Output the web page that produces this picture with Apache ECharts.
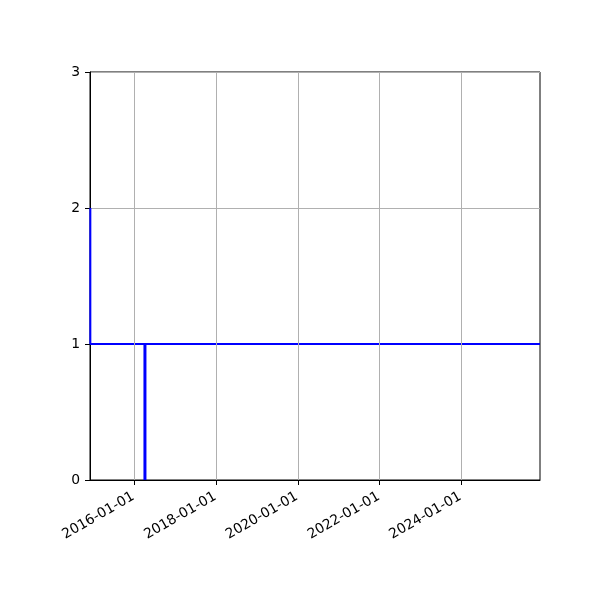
<!DOCTYPE html>
<html>
<head>
<meta charset="utf-8">
<script src="https://cdn.jsdelivr.net/npm/echarts@6/dist/echarts.min.js"></script>
<style>html,body{margin:0;padding:0;background:#fff}#c{width:600px;height:600px}</style>
</head>
<body>
<div id="c"></div>
<script>
var xMin = '2014-12-01';
var xMax = '2025-12-04';
var tickDates = ['2016-01-01','2018-01-01','2020-01-01','2022-01-01','2024-01-01'];
var yTicks = [0, 1, 2, 3];
var stepDates = ['2014-12-04','2014-12-04','2025-12-04'];
var stepValues = [2, 1, 1];
var spikeDates = ['2016-04-05','2016-04-05'];
var spikeValues = [0, 1];

function ts(d){ return new Date(d + 'T00:00:00Z').getTime(); }
var tickTs = tickDates.map(ts);
function pad(n){ return (n<10?'0':'')+n; }
function fmt(v){ var d=new Date(v); return d.getUTCFullYear()+'-'+pad(d.getUTCMonth()+1)+'-'+pad(d.getUTCDate()); }

var chart = echarts.init(document.getElementById('c'), null, {renderer:'canvas'});
chart.setOption({
  animation:false,
  backgroundColor:'#fff',
  grid:{left:90,right:60,top:72,bottom:120,show:true,borderColor:'#000',borderWidth:1,backgroundColor:'transparent'},
  xAxis:{
    type:'value', min:ts(xMin), max:ts(xMax),
    axisLine:{show:true,lineStyle:{color:'#000',width:1}},
    axisTick:{show:true,customValues:tickTs,length:5,lineStyle:{color:'#000'}},
    axisLabel:{show:true,customValues:tickTs,rotate:30,color:'#000',fontFamily:'DejaVu Sans',fontSize:13.9,margin:15,padding:[0,1,0,0],formatter:function(v){return fmt(v);}},
    splitLine:{show:false}
  },
  yAxis:{
    type:'value', min:0, max:3, interval:1,
    axisLine:{show:true,lineStyle:{color:'#000',width:1}},
    axisTick:{show:true,length:5,lineStyle:{color:'#000'}},
    axisLabel:{color:'#000',fontFamily:'DejaVu Sans',fontSize:13.9,margin:10},
    splitLine:{show:true,lineStyle:{color:'#b0b0b0',width:1}}
  },
  series:[
    {
      type:'line', symbol:'none', silent:true,
      data:[],
      markLine:{silent:true,symbol:['none','none'],label:{show:false},
        lineStyle:{color:'#b0b0b0',width:1,type:'solid'},
        data:tickTs.map(function(t){return {xAxis:t};})},
      z:1
    },
    {
      type:'line', symbol:'none', silent:true, clip:true,
      data:stepDates.map(function(d,i){return [ts(d),stepValues[i]];}),
      lineStyle:{color:'#0000ff',width:2},
      z:3
    },
    {
      type:'line', symbol:'none', silent:true,
      data:spikeDates.map(function(d,i){return [ts(d),spikeValues[i]];}),
      lineStyle:{color:'#0000ff',width:3},
      z:3
    }
  ]
});
</script>
</body>
</html>
